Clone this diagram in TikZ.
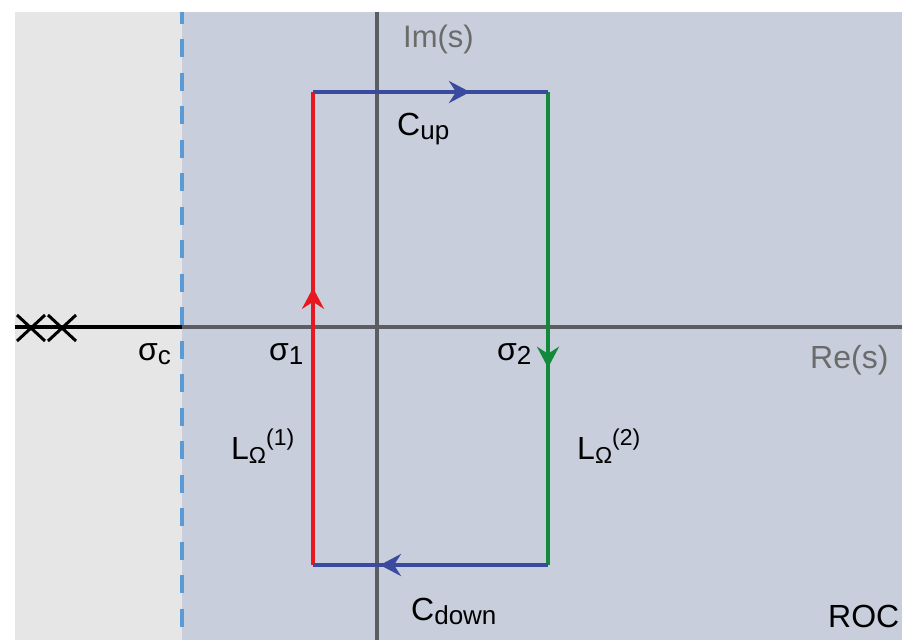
\documentclass[tikz,border=0pt]{standalone}
\usepackage{fontspec}
\setmainfont{Liberation Sans}
\usetikzlibrary{arrows.meta,decorations.markings,shapes.misc}

\definecolor{rocgray}{HTML}{E6E6E6}
\definecolor{rocblue}{HTML}{C8CEDC}
\definecolor{dashblue}{HTML}{5B9BD5}
\definecolor{axisgray}{HTML}{5C5D62}
\definecolor{lblgray}{HTML}{6B6B6B}
\definecolor{cred}{HTML}{E8191E}
\definecolor{cgreen}{HTML}{138A3B}
\definecolor{cblue}{HTML}{3A4A9E}

\newcommand\mainf{\fontsize{32}{38}\selectfont}
\newcommand\lsub[1]{\raisebox{-4pt}{\fontsize{26}{28}\selectfont #1}}
\newcommand\osub[1]{\raisebox{-4pt}{\fontsize{23}{26}\selectfont #1}}
\newcommand\lsup[1]{\raisebox{14pt}{\fontsize{23}{26}\selectfont #1}}

\tikzset{
  axisline/.style={axisgray, line width=4pt},
  edge/.style={line width=4pt},
  lbl/.style={anchor=base west, inner sep=0pt, font=\mainf, text=black},
  axlbl/.style={lbl, text=lblgray},
  pole/.style={cross out, draw=black, line width=3pt, minimum width=25pt, minimum height=23pt, inner sep=0pt},
  midarrow/.style={postaction={decorate, decoration={markings,
      mark=at position #1 with {\arrow{Stealth[length=21pt,width=22pt,inset=7pt]}}}}}
}

\begin{document}
\begin{tikzpicture}[x=1pt,y=-1pt]
\useasboundingbox (0,0) rectangle (902,640);

% regions
\fill[rocgray] (15,12) rectangle (182,640);
\fill[rocblue] (182,12) rectangle (902,640);

% axes
\coordinate (reL) at (182,327);
\coordinate (reR) at (902,327);
\coordinate (reF) at (15,327);
\coordinate (imT) at (377,12);
\coordinate (imB) at (377,640);
\draw[axisline] (reL) -- (reR);
\draw[black, line width=4.5pt] (reF) -- (reL);
\draw[axisline] (imT) -- (imB);

% poles
\node[pole] (p1) at (31,328) {};
\node[pole] (p2) at (62,328) {};

% abscissa of convergence
\coordinate (dT) at (182,5.5);
\coordinate (dB) at (182,640);
\begin{scope}
\clip (0,12) rectangle (902,640);
\draw[dashblue, line width=4pt, dash pattern=on 18pt off 15.5pt] (dT) -- (dB);
\end{scope}

% contour
\coordinate (A) at (313,92);
\coordinate (B) at (548,92);
\coordinate (C) at (548,565);
\coordinate (D) at (313,565);
\draw[cred, edge, midarrow=0.586] (D) -- (A);
\draw[cgreen, edge, midarrow=0.583] (B) -- (C);
\draw[cblue, edge, midarrow=0.668] (A) -- (B);
\draw[cblue, edge, midarrow=0.715] (C) -- (D);

% labels
\node[axlbl, font=\fontsize{31}{36}\selectfont] (im) at (403,47) {Im(s)};
\node[axlbl] (re) at (810,368) {Re(s)};
\node[lbl] (cup) at (397,135) {C\lsub{up}};
\node[lbl] (cdown) at (411,620) {C\lsub{down}};
\node[lbl] (sc) at (138,360) {σ\lsub{c}};
\node[lbl] (s1) at (269,360) {σ\lsub{1}};
\node[lbl] (s2) at (497,360) {σ\lsub{2}};
\node[lbl] (l1) at (231,459) {L\osub{Ω}\lsup{(1)}};
\node[lbl] (l2) at (577,459) {L\osub{Ω}\lsup{(2)}};
\node[lbl] (roc) at (828,627) {ROC};
\end{tikzpicture}
\end{document}
